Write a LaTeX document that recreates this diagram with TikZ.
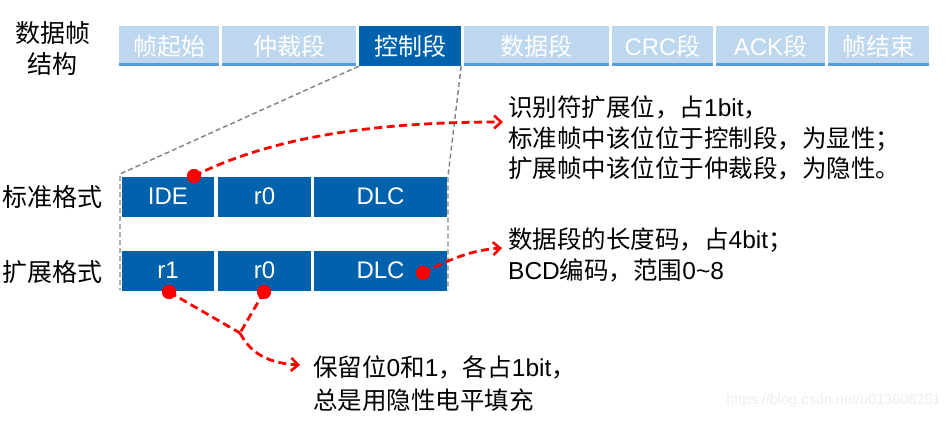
\documentclass[tikz,border=0pt]{standalone}
\usepackage{fontspec}
\setmainfont{Liberation Sans}
\newfontfamily\cjk{Noto Sans CJK SC}
\usetikzlibrary{arrows.meta}
\newcommand\zh[1]{{\cjk #1}}
\definecolor{darkfield}{RGB}{0,98,172}
\definecolor{lightfield}{RGB}{189,215,238}
\definecolor{fieldline}{RGB}{91,155,213}
\definecolor{guide}{RGB}{128,128,128}
\definecolor{mark}{RGB}{255,0,0}
\definecolor{wm}{RGB}{238,238,238}
\tikzset{
  fieldbox/.style={minimum height=40pt, inner sep=0pt, text=white,
    font=\fontsize{24}{28}\selectfont},
  lbox/.style={fieldbox, fill=lightfield},
  dbox/.style={fieldbox, fill=darkfield},
  underline/.style={draw=fieldline, line width=3pt},
  label/.style={inner sep=0pt, align=center, font=\fontsize{25}{31}\selectfont},
  note/.style={inner sep=0pt, align=left, anchor=west},
  guideline/.style={draw=guide, line width=1.4pt, dash pattern=on 5pt off 3pt},
  redline/.style={draw=mark, line width=2.8pt, dash pattern=on 8pt off 4.5pt},
  tip/.style={-{Straight Barb[length=7pt,width=13pt,line width=2.6pt]}},
  dot/.style={circle, fill=mark, minimum size=14pt, inner sep=0pt},
}
\begin{document}
\begin{tikzpicture}[x=1pt,y=-1pt]
\useasboundingbox (0,0) rectangle (949,420);

% frame structure bar
\node[lbox, minimum width=100pt] (f1) at (169,46)   {\zh{帧起始}};
\node[lbox, minimum width=134pt] (f2) at (289,46)   {\zh{仲裁段}};
\node[dbox, minimum width=102pt] (f3) at (410,46)   {\zh{控制段}};
\node[lbox, minimum width=145pt] (f4) at (536.5,46) {\zh{数据段}};
\node[lbox, minimum width=101pt] (f5) at (662.5,46) {CRC\zh{段}};
\node[lbox, minimum width=109pt] (f6) at (770.5,46) {ACK\zh{段}};
\node[lbox, minimum width=101pt] (f7) at (878.5,46) {\zh{帧结束}};
\foreach \f in {f1,f2,f4,f5,f6,f7}
  \draw[underline] ([yshift=1.5pt]\f.south west) -- ([yshift=1.5pt]\f.south east);

\node[label] (title) at (52.5,49) {\zh{数据帧}\\\zh{结构}};

% control field, standard and extended formats
\node[dbox, minimum width=92pt]  (ide) at (168,196.5)   {IDE};
\node[dbox, minimum width=93pt]  (sr0) at (264.5,196.5) {r0};
\node[dbox, minimum width=133pt] (sdl) at (380.5,196.5) {DLC};
\node[dbox, minimum width=92pt]  (er1) at (168,270.5)   {r1};
\node[dbox, minimum width=93pt]  (er0) at (264.5,270.5) {r0};
\node[dbox, minimum width=133pt] (edl) at (380.5,270.5) {DLC};

\node[label] (std) at (52.5,197) {\zh{标准格式}};
\node[label] (ext) at (52.5,272) {\zh{扩展格式}};

% zoom-out guides from the control field
\coordinate (gl) at (120,174);
\coordinate (gr) at (448,176);
\draw[guideline] (f3.south west) -- (gl) -- (120,290);
\draw[guideline] (f3.south east) -- (gr) -- (448,290);

% explanations
\node[note, font=\fontsize{24.5}{30.5}\selectfont] (n1) at (508,138)
  {\zh{识别符扩展位，占}1bit\zh{，}\\
   \zh{标准帧中该位位于控制段，为显性；}\\
   \zh{扩展帧中该位位于仲裁段，为隐性。}};
\node[note, font=\fontsize{24.5}{31}\selectfont] (n2) at (508,254.5)
  {\zh{数据段的长度码，占}4bit\zh{；}\\
   BCD\zh{编码，范围}0{\char"7E}8};
\node[note, font=\fontsize{24.5}{33}\selectfont] (n3) at (313,383.5)
  {\zh{保留位}0\zh{和}1\zh{，各占}1bit\zh{，}\\
   \zh{总是用隐性电平填充}};

% callouts
\node[dot] (d1) at (194,176) {};
\node[dot] (d2) at (423,273) {};
\node[dot] (d3) at (169,292) {};
\node[dot] (d4) at (264,292) {};
\coordinate (t1) at (503,122);
\coordinate (t2) at (502,248);
\coordinate (t3) at (300,365);
\coordinate (j)  at (240,333);

\draw[redline, tip] (d1.center) .. controls (270,138) and (370,122) .. (t1);
\draw[redline, tip] (d2.center) .. controls (450,259) and (472,250) .. (t2);
\draw[redline] (d3.center) -- (j);
\draw[redline] (d4.center) -- (j);
\draw[redline, tip] (j) .. controls (250,352) and (266,363) .. (t3);
\node[dot] at (d1) {};
\node[dot] at (d2) {};
\node[dot] at (d3) {};
\node[dot] at (d4) {};

\node[text=wm, inner sep=0pt, anchor=east, font=\fontsize{14.5}{16}\selectfont]
  (url) at (941,401) {https://blog.csdn.net/u013606261};
\end{tikzpicture}
\end{document}
